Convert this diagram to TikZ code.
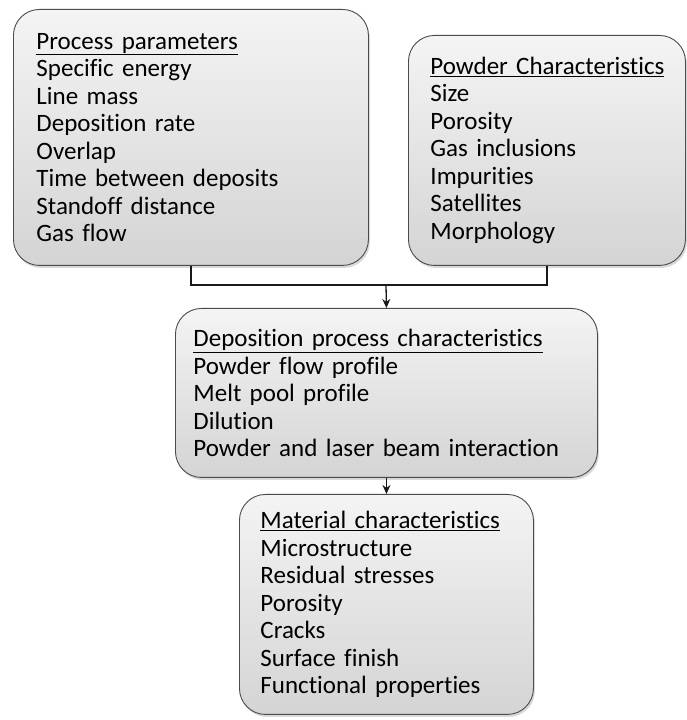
\documentclass[tikz,border=0pt]{standalone}
\usepackage{fontspec}
\setmainfont[Ligatures=NoCommon]{Carlito}
\usepackage{tikz}
\usetikzlibrary{arrows.meta, positioning, shadows}
\definecolor{mydark}{RGB}{25,25,25}
\definecolor{boxedge}{RGB}{75,75,75}
\definecolor{boxtop}{RGB}{244,244,244}
\definecolor{boxbot}{RGB}{212,212,212}
\tikzset{
  gbox/.style={rectangle, draw=boxedge, top color=boxtop, bottom color=boxbot,
    rounded corners=26pt, line width=0.9pt, align=left, anchor=north west,
    inner ysep=0pt, font=\fontsize{25}{27.5}\selectfont,
    drop shadow={shadow xshift=1.5pt, shadow yshift=-2.5pt, opacity=0.3}},
  arrow/.style={-{Stealth[length=9pt, width=8pt]}, line width=1.3pt, color=mydark},
  line/.style={line width=1.3pt, color=mydark}
}
\newcommand{\boxtitle}[1]{\underline{#1}}
\begin{document}
\begin{tikzpicture}[x=1pt, y=1pt]
  \useasboundingbox (0,0) rectangle (686,720);
  % upper row
  \node[gbox, text width=309pt, inner xsep=23pt, minimum height=256pt] (pp) at (13,711)
    {\boxtitle{Process parameters}\\ Specific energy\\ Line mass\\ Deposition rate\\
     Overlap\\ Time between deposits\\ Standoff distance\\ Gas flow};
  \node[gbox, text width=233pt, inner xsep=22pt, minimum height=230pt] (pc) at (408,685)
    {\boxtitle{Powder Characteristics}\\ Size\\ Porosity\\ Gas inclusions\\
     Impurities\\ Satellites\\ Morphology};
  % middle and lower boxes
  \node[gbox, text width=386pt, inner xsep=18pt, minimum height=169pt] (dp) at (175,412)
    {\boxtitle{Deposition process characteristics}\\ Powder flow profile\\
     Melt pool profile\\ Dilution\\ Powder and laser beam interaction};
  \node[gbox, text width=252pt, inner xsep=21pt, minimum height=220pt] (mc) at (239,226)
    {\boxtitle{Material characteristics}\\ Microstructure\\ Residual stresses\\
     Porosity\\ Cracks\\ Surface finish\\ Functional properties};
  \coordinate (join) at (386,435);
  \draw[line] (pp.south) |- (join) -| (pc.south);
  \draw[arrow] (join) -- (dp.north);
  \draw[arrow] (dp.south) -- (mc.north);
\end{tikzpicture}
\end{document}
